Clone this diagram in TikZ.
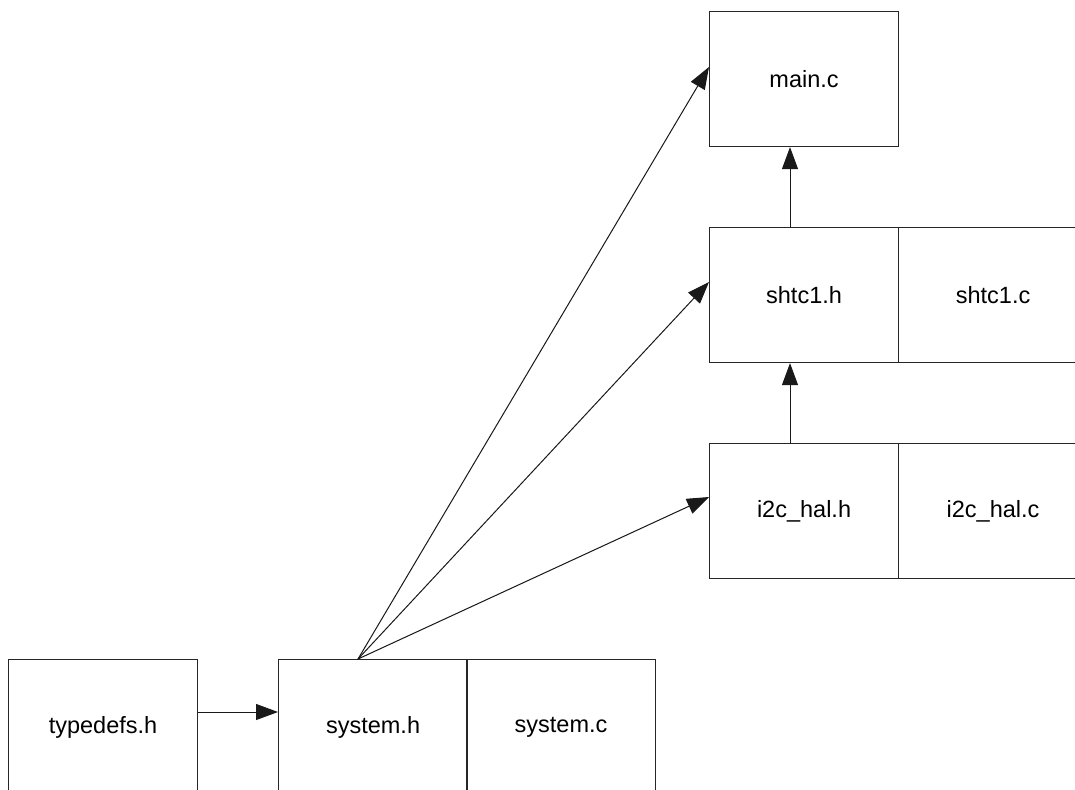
\documentclass[tikz,border=0pt]{standalone}
\usepackage{fontspec}
\setmainfont{Liberation Sans}
\usetikzlibrary{arrows.meta,calc}
\tikzset{
  filebox/.style={draw=black!85, line width=1.1pt, rectangle, minimum width=189pt, minimum height=135pt, inner sep=0pt, anchor=north west, font=\fontsize{23.5}{28}\selectfont},
  dep/.style={draw=black!90, line width=1pt, -{Triangle[length=22pt,width=16pt]}}
}
\begin{document}
\begin{tikzpicture}[x=1pt,y=-1pt]
\useasboundingbox (0,0) rectangle (1075,789);
\fill[white] (0,0) rectangle (1075,789);
\node[filebox] (mainc) at (709,11) {main.c};
\node[filebox] (shtch) at (709,227) {shtc1.h};
\node[filebox] (shtcc) at (898,227) {shtc1.c};
\node[filebox] (i2ch) at (709,443) {i2c\_hal.h};
\node[filebox] (i2cc) at (898,443) {i2c\_hal.c};
\node[filebox] (typedefs) at (8,659) {typedefs.h};
\node[filebox] (sysh) at (278,659) {system.h};
\node[filebox] (sysc) at (466,659) {system.c};
\coordinate (src) at ($(sysh.north west)+(80,0)$);
\draw[dep] (src) -- ($(mainc.north west)+(0,56)$);
\draw[dep] (src) -- ($(shtch.north west)+(0,55)$);
\draw[dep] (src) -- ($(i2ch.north west)+(0,54)$);
\draw[dep] ($(shtch.north west)+(81,0)$) -- ($(mainc.south west)+(81,0)$);
\draw[dep] ($(i2ch.north west)+(81,0)$) -- ($(shtch.south west)+(81,0)$);
\draw[dep] ($(typedefs.north east)+(0,53)$) -- ($(sysh.north west)+(0,53)$);
\end{tikzpicture}
\end{document}
